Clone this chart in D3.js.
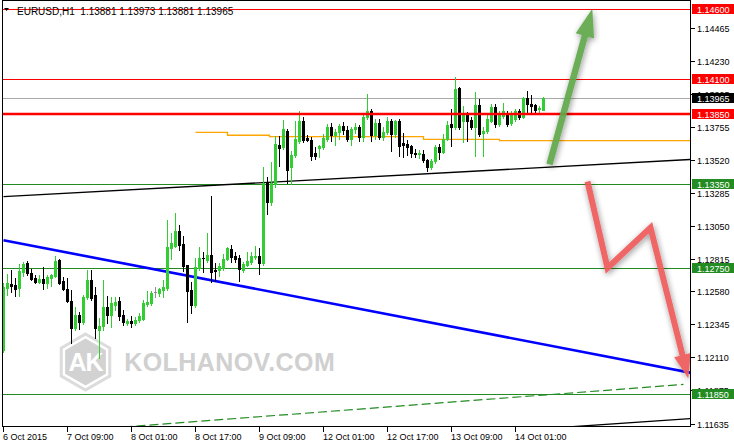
<!DOCTYPE html>
<html><head><meta charset="utf-8">
<script src="https://cdn.jsdelivr.net/npm/d3@7"></script>
<style>html,body{margin:0;padding:0;background:#fff;overflow:hidden}svg{display:block}text{font-family:"Liberation Sans",Arial,sans-serif}</style>
</head><body><svg id="c" width="734" height="445"></svg>
<script>
const titleText = "EURUSD,H1  1.13881 1.13973 1.13881 1.13965";
const opens = [1.12159,1.12605,1.12633,1.12626,1.12605,1.12719,1.12784,1.12712,1.12676,1.12648,1.12669,1.12640,1.12676,1.12691,1.12806,1.12655,1.12597,1.12511,1.12317,1.12411,1.12360,1.12540,1.12662,1.12554,1.12303,1.12332,1.12468,1.12411,1.12482,1.12511,1.12411,1.12353,1.12368,1.12353,1.12375,1.12382,1.12490,1.12497,1.12573,1.12569,1.12590,1.12605,1.12892,1.12906,1.13014,1.12921,1.12770,1.12590,1.12482,1.12748,1.12820,1.12806,1.12842,1.12734,1.12734,1.12748,1.12813,1.12885,1.12834,1.12820,1.12734,1.12770,1.12791,1.12827,1.12834,1.12784,1.13359,1.13222,1.13345,1.13625,1.13610,1.13725,1.13467,1.13553,1.13653,1.13797,1.13675,1.13661,1.13567,1.13603,1.13610,1.13668,1.13754,1.13696,1.13718,1.13761,1.13732,1.13668,1.13740,1.13754,1.13682,1.13826,1.13869,1.13696,1.13783,1.13682,1.13718,1.13797,1.13704,1.13797,1.13639,1.13632,1.13617,1.13567,1.13560,1.13560,1.13517,1.13467,1.13510,1.13610,1.13574,1.13668,1.13775,1.13754,1.14034,1.13797,1.13854,1.13804,1.13754,1.13912,1.13711,1.13725,1.13797,1.13898,1.13775,1.13833,1.13847,1.13783,1.13811,1.13869,1.13826,1.13962,1.13919,1.13912,1.13883,1.13881];
const highs = [1.12640,1.12705,1.12734,1.12676,1.12777,1.12791,1.12798,1.12741,1.12698,1.12698,1.12755,1.12698,1.12705,1.12834,1.12813,1.12684,1.12676,1.12590,1.12468,1.12432,1.12554,1.12734,1.12734,1.12612,1.12389,1.12662,1.12547,1.12540,1.12540,1.12540,1.12447,1.12382,1.12403,1.12396,1.12425,1.12518,1.12583,1.12583,1.12612,1.12605,1.12662,1.13093,1.13000,1.13143,1.13057,1.12978,1.12770,1.12648,1.12820,1.12899,1.12863,1.13000,1.13266,1.12784,1.12784,1.12849,1.12899,1.12913,1.12863,1.12842,1.12791,1.12863,1.12863,1.12906,1.12892,1.13467,1.13402,1.13503,1.13689,1.13689,1.13804,1.13740,1.13582,1.13797,1.13869,1.13826,1.13696,1.13682,1.13610,1.13625,1.13704,1.13775,1.13783,1.13740,1.13775,1.13790,1.13761,1.13754,1.13783,1.13768,1.13840,1.13991,1.13883,1.13811,1.13811,1.13754,1.13826,1.13811,1.13804,1.13811,1.13711,1.13661,1.13625,1.13596,1.13589,1.13589,1.13524,1.13524,1.13625,1.13632,1.13704,1.13797,1.13883,1.14113,1.14041,1.13905,1.13862,1.13826,1.14005,1.13955,1.13754,1.13840,1.13919,1.13919,1.13869,1.13926,1.13869,1.13869,1.13883,1.13883,1.13969,1.14013,1.13984,1.13919,1.13905,1.13973];
const lows = [1.12145,1.12554,1.12576,1.12547,1.12547,1.12691,1.12698,1.12662,1.12640,1.12640,1.12597,1.12605,1.12619,1.12684,1.12633,1.12590,1.12504,1.12210,1.12303,1.12310,1.12346,1.12525,1.12518,1.12245,1.12102,1.12303,1.12353,1.12324,1.12447,1.12375,1.12339,1.12339,1.12324,1.12339,1.12360,1.12375,1.12475,1.12482,1.12540,1.12547,1.12540,1.12590,1.12813,1.12899,1.12877,1.12727,1.12360,1.12425,1.12468,1.12734,1.12719,1.12791,1.12648,1.12655,1.12691,1.12734,1.12806,1.12791,1.12791,1.12655,1.12719,1.12763,1.12777,1.12813,1.12705,1.12770,1.13136,1.13201,1.13330,1.13474,1.13596,1.13359,1.13345,1.13538,1.13639,1.13646,1.13653,1.13517,1.13524,1.13538,1.13596,1.13653,1.13653,1.13625,1.13668,1.13704,1.13653,1.13625,1.13711,1.13653,1.13653,1.13811,1.13653,1.13668,1.13668,1.13661,1.13704,1.13582,1.13682,1.13546,1.13538,1.13553,1.13538,1.13538,1.13531,1.13503,1.13438,1.13459,1.13495,1.13524,1.13567,1.13661,1.13617,1.13740,1.13740,1.13646,1.13653,1.13740,1.13546,1.13689,1.13546,1.13711,1.13790,1.13754,1.13761,1.13819,1.13761,1.13768,1.13797,1.13811,1.13819,1.13847,1.13847,1.13847,1.13847,1.13881];
const closes = [1.12612,1.12640,1.12619,1.12597,1.12727,1.12777,1.12712,1.12669,1.12648,1.12669,1.12640,1.12684,1.12698,1.12798,1.12640,1.12597,1.12511,1.12317,1.12411,1.12360,1.12540,1.12662,1.12533,1.12317,1.12332,1.12468,1.12411,1.12497,1.12504,1.12403,1.12360,1.12368,1.12353,1.12375,1.12403,1.12497,1.12504,1.12569,1.12573,1.12597,1.12612,1.12899,1.12928,1.13014,1.12913,1.12763,1.12583,1.12482,1.12755,1.12820,1.12816,1.12842,1.12719,1.12727,1.12763,1.12813,1.12892,1.12827,1.12813,1.12741,1.12777,1.12798,1.12834,1.12834,1.12784,1.13359,1.13222,1.13359,1.13632,1.13603,1.13740,1.13452,1.13553,1.13668,1.13797,1.13661,1.13661,1.13546,1.13546,1.13617,1.13675,1.13754,1.13696,1.13718,1.13761,1.13732,1.13668,1.13740,1.13754,1.13682,1.13826,1.13869,1.13696,1.13783,1.13682,1.13718,1.13797,1.13704,1.13797,1.13617,1.13625,1.13610,1.13567,1.13564,1.13567,1.13517,1.13467,1.13510,1.13610,1.13574,1.13668,1.13768,1.13754,1.14027,1.13754,1.13854,1.13797,1.13754,1.13912,1.13704,1.13725,1.13811,1.13898,1.13775,1.13847,1.13869,1.13775,1.13847,1.13869,1.13826,1.13962,1.13919,1.13905,1.13876,1.13890,1.13965];

const timeLabels = ["6 Oct 2015","7 Oct 09:00","8 Oct 01:00","8 Oct 17:00","9 Oct 09:00","12 Oct 01:00","12 Oct 17:00","13 Oct 09:00","14 Oct 01:00"];
const timeLabelIdx = [0,16,32,48,64,80,96,112,128];
const priceTicks = [1.14465,1.14230,1.13995,1.13755,1.13520,1.13285,1.13050,1.12815,1.12580,1.12345,1.12110,1.11875,1.11635];

const redLevels = [1.14600,1.14100];
const keyLevel = 1.13850;
const greenLevels = [1.13350,1.12750,1.11850];
const bidPrice = 1.13965;

// trend lines as [barIndex, price]
const blackTrend = [[0,1.13258],[171.9,1.13524]];
const blueTrend = [[0,1.12946],[171.9,1.11998]];
const dashedTrend = [[30,1.11610],[170,1.11915]];
const lowTrend = [[138.75,1.11606],[171.9,1.11671]];
const orangeIdx = [48,56,56,66.5,66.5,105,105,124,124,171.9];
const orangeVal = [1.13718,1.13718,1.13697,1.13697,1.13687,1.13687,1.13668,1.13668,1.13658,1.13658];

const greenArrow = [[136.5,1.13488],[147.2,1.14601]];
const redArrow = [[146,1.13366],[151,1.12748],[161.75,1.13036],[171.2,1.11958]];

const svg = d3.select('#c');
const x = d3.scaleLinear().domain([0,1]).range([3.5,7.5]);
const y = d3.scaleLinear().domain([1.146,1.1185]).range([9,393.5]);
const L = 3, R = 691, T = 1, B = 427;

const defs = svg.append('defs');
defs.append('clipPath').attr('id','clip').append('rect').attr('x',L).attr('y',T).attr('width',R-L-1).attr('height',B-T-1);
const f = defs.append('filter').attr('id','sh').attr('x','-30%').attr('y','-30%').attr('width','160%').attr('height','160%');
f.append('feGaussianBlur').attr('in','SourceAlpha').attr('stdDeviation',3).attr('result','b');
f.append('feOffset').attr('in','b').attr('dx',1).attr('dy',2).attr('result','o');
f.append('feComponentTransfer').attr('in','o').attr('result','o2').append('feFuncA').attr('type','linear').attr('slope',0.45);
const fm = f.append('feMerge'); fm.append('feMergeNode').attr('in','o2'); fm.append('feMergeNode').attr('in','SourceGraphic');

svg.append('rect').attr('width',734).attr('height',445).attr('fill','#fff');

const plot = svg.append('g').attr('clip-path','url(#clip)');

// watermark
const wm = plot.append('g');
const hex = (cx,cy,r)=>d3.range(6).map(k=>{const a=Math.PI/180*(60*k-90);return [cx+r*Math.cos(a),cy+r*Math.sin(a)];});
const wcx = x(20.5), wcy = y(1.12075);
wm.append('polygon').attr('points',hex(wcx,wcy,28).join(' ')).attr('fill','none').attr('stroke','#dcdcdc').attr('stroke-width',3);
wm.append('polygon').attr('points',hex(wcx,wcy,23.5).join(' ')).attr('fill','#d2d2d2');
wm.append('text').attr('x',wcx).attr('y',wcy+9).attr('text-anchor','middle').attr('font-weight','bold').attr('font-size',25).attr('fill','#fff').attr('letter-spacing',-1).text('AK');
wm.append('text').attr('x',x(30.2)).attr('y',wcy+9).attr('font-weight','bold').attr('font-size',25).attr('fill','#d0d0d0').attr('letter-spacing',0.4).text('KOLHANOV.COM');

const line = d3.line().x(d=>x(d[0])).y(d=>y(d[1]));
const py = v => Math.round(y(v)) + 0.5;

// horizontal levels
plot.selectAll('line.red').data(redLevels).join('line').attr('x1',L).attr('x2',R).attr('y1',py).attr('y2',py).attr('stroke','#ff0000').attr('stroke-width',1).attr('shape-rendering','crispEdges');
plot.selectAll('line.green').data(greenLevels).join('line').attr('x1',L).attr('x2',R).attr('y1',py).attr('y2',py).attr('stroke','#228b22').attr('stroke-width',1).attr('shape-rendering','crispEdges');
plot.append('line').attr('x1',L).attr('x2',R).attr('y1',py(bidPrice)).attr('y2',py(bidPrice)).attr('stroke','#a9a9a9').attr('shape-rendering','crispEdges');

// orange step line
plot.append('path').attr('d',line(orangeIdx.map((d,i)=>[d,orangeVal[i]]))).attr('fill','none').attr('stroke','#ffa500').attr('stroke-width',1.3);
// trend lines
plot.append('path').attr('d',line(blackTrend)).attr('fill','none').attr('stroke','#000').attr('stroke-width',1.3);
plot.append('path').attr('d',line(blueTrend)).attr('fill','none').attr('stroke','#0000ff').attr('stroke-width',2.6);
plot.append('path').attr('d',line(dashedTrend)).attr('fill','none').attr('stroke','#228b22').attr('stroke-width',1.2).attr('stroke-dasharray','9,4');
plot.append('path').attr('d',line(lowTrend)).attr('fill','none').attr('stroke','#000').attr('stroke-width',1.3);

// candles
const idx = d3.range(opens.length);
const col = i => closes[i]>opens[i] ? '#32cd32' : (closes[i]<opens[i] ? '#000' : '#909090');
const cg = plot.append('g').attr('shape-rendering','crispEdges');
cg.selectAll('rect.w').data(idx).join('rect').attr('class','w')
  .attr('x',i=>x(i)-0.5).attr('width',1)
  .attr('y',i=>Math.round(y(highs[i]))).attr('height',i=>Math.max(1,Math.round(y(lows[i]))-Math.round(y(highs[i]))+1))
  .attr('fill',col);
cg.selectAll('rect.b').data(idx).join('rect').attr('class','b')
  .attr('x',i=>x(i)-1.5).attr('width',3)
  .attr('y',i=>Math.round(y(Math.max(opens[i],closes[i])))).attr('height',i=>Math.max(1,Math.round(y(Math.min(opens[i],closes[i])))-Math.round(y(Math.max(opens[i],closes[i])))+1))
  .attr('fill',col);

// key level (thick red) over candles
plot.append('line').attr('x1',L).attr('x2',R).attr('y1',Math.round(y(keyLevel))).attr('y2',Math.round(y(keyLevel))).attr('stroke','#ff0000').attr('stroke-width',2.4);

// arrows
function arrow(pts, color, w, hl, hw){
  const p = pts.map(d=>[x(d[0]),y(d[1])]);
  const a = p[p.length-2], b = p[p.length-1];
  const dx=b[0]-a[0], dy=b[1]-a[1], len=Math.hypot(dx,dy), ux=dx/len, uy=dy/len;
  const base=[b[0]-ux*hl,b[1]-uy*hl];
  const shaft = p.slice(0,-1).concat([[b[0]-ux*hl*0.8,b[1]-uy*hl*0.8]]);
  const g = plot.append('g').attr('filter','url(#sh)').attr('opacity',0.92);
  g.append('path').attr('d',d3.line()(shaft)).attr('fill','none').attr('stroke',color).attr('stroke-width',w).attr('stroke-linejoin','miter');
  g.append('polygon').attr('points',[b,[base[0]-uy*hw,base[1]+ux*hw],[base[0]+uy*hw,base[1]-ux*hw]].join(' ')).attr('fill',color);
}
arrow(greenArrow,'#5ea84a',6.5,28,9.5);
arrow(redArrow,'#ee5a5a',6,24,8.5);

// frame
svg.append('rect').attr('x',L-0.5).attr('y',T-0.5).attr('width',R-L).attr('height',B-T).attr('fill','none').attr('stroke','#000').attr('shape-rendering','crispEdges');

// title
svg.append('path').attr('d','M4,8 L9,8 L6.5,11 Z').attr('fill','#000');
svg.append('text').attr('x',17).attr('y',15).attr('font-size',10).attr('fill','#000').attr('xml:space','preserve').style('white-space','pre').text(titleText);

// right axis
const ax = svg.append('g').attr('shape-rendering','crispEdges');
ax.selectAll('line.t').data(priceTicks).join('line').attr('x1',R).attr('x2',R+4).attr('y1',py).attr('y2',py).attr('stroke','#000');
svg.selectAll('text.pt').data(priceTicks).join('text').attr('class','pt').attr('x',697).attr('y',d=>Math.round(y(d))+3.5).attr('font-size',9).attr('fill','#000').text(d=>d.toFixed(5));

// price boxes
const boxes = redLevels.map(v=>({v,c:'#ff0000'})).concat([{v:keyLevel,c:'#ff0000'},{v:bidPrice,c:'#000'}]).concat(greenLevels.map(v=>({v,c:'#228b22'})));
const bg = svg.selectAll('g.box').data(boxes).join('g').attr('class','box');
bg.append('rect').attr('x',R+1).attr('y',d=>Math.round(y(d.v))-5).attr('width',734-R-1).attr('height',10).attr('fill',d=>d.c).attr('shape-rendering','crispEdges');
bg.append('text').attr('x',697).attr('y',d=>Math.round(y(d.v))+3.5).attr('font-size',9).attr('fill','#fff').text(d=>d.v.toFixed(5));

// bottom axis
ax.selectAll('line.xt').data(timeLabelIdx).join('line').attr('x1',d=>Math.floor(x(d))+0.5).attr('x2',d=>Math.floor(x(d))+0.5).attr('y1',B).attr('y2',B+5).attr('stroke','#000');
svg.selectAll('text.xl').data(timeLabels).join('text').attr('class','xl').attr('x',(d,i)=>Math.floor(x(timeLabelIdx[i]))).attr('y',440).attr('font-size',9).attr('fill','#000').text(d=>d);
</script></body></html>
